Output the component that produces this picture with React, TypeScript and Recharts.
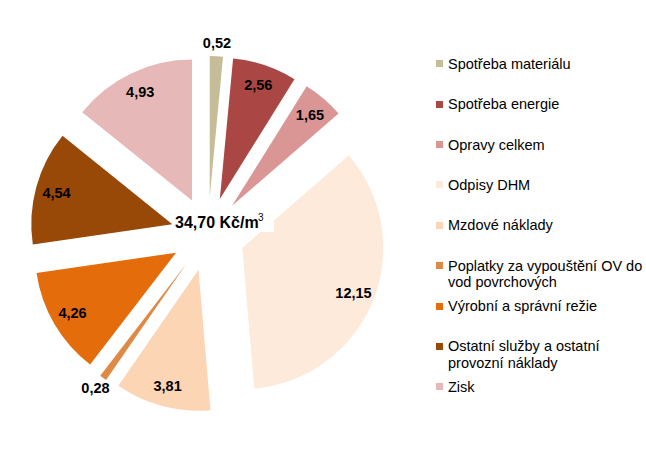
import React from "react";
import { PieChart, Pie, Cell, Sector, Legend, Label } from "recharts";

const categories = [
  "Spotřeba materiálu",
  "Spotřeba energie",
  "Opravy celkem",
  "Odpisy DHM",
  "Mzdové náklady",
  "Poplatky za vypouštění OV do\nvod povrchových",
  "Výrobní a správní režie",
  "Ostatní služby a ostatní\nprovozní náklady",
  "Zisk",
];
const values = [0.52, 2.56, 1.65, 12.15, 3.81, 0.28, 4.26, 4.54, 4.93];
const colors = [
  "#C4BD97",
  "#AA4643",
  "#D99694",
  "#FDEADA",
  "#FCD5B5",
  "#DF8A44",
  "#E46C0A",
  "#984807",
  "#E6B9B8",
];
const totalLabel = "34,70 Kč/m";

const data = categories.map((name, i) => ({ name, value: values[i], color: colors[i] }));

const RAD = Math.PI / 180;
const CX = 208;
const CY = 234;
const EXPLODE = 37;
const FONT = "'Liberation Sans', Arial, sans-serif";

// every slice pulled out along its mid angle
const renderSlice = (props: any) => {
  const { cx, cy, midAngle } = props;
  const dx = Math.cos(-midAngle * RAD) * EXPLODE;
  const dy = Math.sin(-midAngle * RAD) * EXPLODE;
  return <Sector {...props} cx={cx + dx} cy={cy + dy} stroke="none" />;
};

const renderValue = (props: any) => {
  const { cx, cy, midAngle, percent, value } = props;
  const r = percent < 0.02 ? 191 : 157;
  const x = cx + Math.cos(-midAngle * RAD) * r;
  const y = cy + Math.sin(-midAngle * RAD) * r;
  return (
    <text
      x={x}
      y={y}
      textAnchor="middle"
      dominantBaseline="central"
      fontFamily={FONT}
      fontSize={14.5}
      fontWeight="bold"
      fill="#000"
    >
      {value.toFixed(2).replace(".", ",")}
    </text>
  );
};

const renderCenter = () => (
  <g>
    <rect x={CX - 36} y={CY - 26} width={102} height={24} fill="#fff" />
    <text x={CX - 33} y={CY - 6} fontFamily={FONT} fontSize={16} fontWeight="bold" fill="#000">
      {totalLabel}
    </text>
    <text x={CX + 50} y={CY - 13} fontFamily={FONT} fontSize={10} fill="#000">
      3
    </text>
  </g>
);

const renderLegend = () => (
  <div style={{ fontFamily: FONT, fontSize: 14.5, color: "#000" }}>
    {data.map((entry, i) => (
      <div key={i} style={{ position: "relative", height: 40.4 }}>
        <div
          style={{
            position: "absolute",
            left: 0,
            top: 4.5,
            width: 7,
            height: 7,
            background: entry.color,
          }}
        />
        <div
          style={{
            position: "absolute",
            left: 12,
            top: 0,
            whiteSpace: "pre",
            lineHeight: "16.5px",
          }}
        >
          {entry.name}
        </div>
      </div>
    ))}
  </div>
);

export default function App() {
  return (
    <div style={{ position: "absolute", left: 0, top: 0, width: 646, height: 468, background: "#fff" }}>
      <PieChart width={646} height={468} margin={{ top: 0, right: 0, bottom: 0, left: 0 }}>
        <Pie
          data={data}
          dataKey="value"
          nameKey="name"
          cx={CX}
          cy={CY}
          outerRadius={141}
          startAngle={90}
          endAngle={-270}
          shape={renderSlice}
          label={renderValue}
          labelLine={false}
          isAnimationActive={false}
        >
          {data.map((d, i) => (
            <Cell key={i} fill={d.color} stroke="none" />
          ))}
          <Label position="center" content={renderCenter} />
        </Pie>
        <Legend
          layout="vertical"
          align="right"
          verticalAlign="top"
          content={renderLegend}
          wrapperStyle={{ left: 436, top: 55.75, width: 210 }}
        />
      </PieChart>
    </div>
  );
}
